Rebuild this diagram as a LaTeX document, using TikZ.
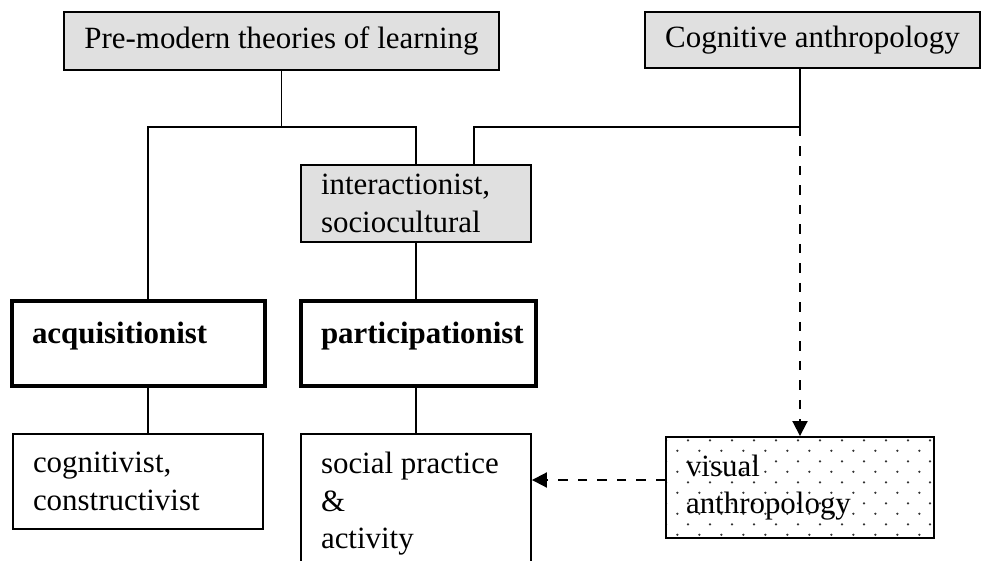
\documentclass[tikz,border=0pt]{standalone}
\usepackage{fontspec}
\setmainfont{Liberation Serif}
\usetikzlibrary{arrows.meta, patterns.meta}

\definecolor{boxgray}{RGB}{224,224,224}

% sparse staggered dots for the visual anthropology box
\tikzdeclarepattern{
  name=sparsedots,
  type=uncolored,
  bounding box={(0cm,0cm) and (0.434cm,0.428cm)},
  tile size={(0.434cm,0.428cm)},
  code={
    \fill (0.1085cm,0.107cm) circle (0.026cm);
    \fill (0.3255cm,0.321cm) circle (0.026cm);
  }
}

\begin{document}
\begin{tikzpicture}[
    x=0.02cm, y=-0.02cm,
    box/.style={draw, line width=1.1pt, rectangle, inner xsep=0.4cm, inner ysep=0pt, align=flush left, font=\fontsize{17.6}{21.3}\selectfont},
    shaded/.style={box, fill=boxgray},
    heavy/.style={box, line width=2pt, font=\fontsize{17.6}{21.3}\selectfont\bfseries, text height=0.36cm, text depth=0.36cm},
    speckled/.style={box, pattern=sparsedots, pattern color=black!80},
    link/.style={line width=1.1pt},
    dashlink/.style={line width=1.1pt, dash pattern=on 0.19cm off 0.2cm, -{Triangle[length=0.3cm, width=0.3cm]}}
]
\useasboundingbox (0,0) rectangle (981,561);

% --- 1. SOURCES (Top) ---
\node[shaded, minimum width=8.46cm, minimum height=1.16cm] (premod) at (281.5,41) {Pre-modern theories of learning};
\node[shaded, minimum width=6.66cm, minimum height=1.12cm] (cogant) at (812.5,40) {Cognitive anthropology};

% --- 2. THE TWO METAPHORS (Middle) ---
\node[shaded, text width=3.8cm, minimum height=1.54cm] (inter) at (416,203.5) {interactionist,\\sociocultural};
\node[heavy, text width=4.26cm, minimum height=1.7cm] (acq) at (138.5,343.5) {acquisitionist};
\node[heavy, text width=3.9cm, minimum height=1.7cm] (part) at (418.5,343.5) {participationist};

% --- 3. APPROACHES (Bottom) ---
\node[box, text width=4.2cm, minimum height=1.9cm] (cogn) at (138,481.5) {cognitivist,\\constructivist};
\node[box, text width=3.8cm, minimum height=2.8cm] (social) at (416,504) {social practice\\\&\\activity}; % runs off the page
\node[speckled, text width=4.56cm, minimum height=2.02cm] (visual) at (800,487.5) {visual\\anthropology};

% --- 4. CONNECTORS ---
\coordinate (prejoin) at (281.5,127);
\coordinate (cogjoin) at (800,127);
\draw[link] (premod.south) -- (prejoin);
\draw[link] ([xshift=0.19cm]acq.north) |- (prejoin) -| (inter.north);
\draw[link] (cogant.south -| cogjoin) -- (cogjoin) -| ([xshift=-1.16cm]inter.north east);
\draw[link] (inter.south) -- (inter.south |- part.north);
\draw[link] ([xshift=0.19cm]acq.south) -- ([xshift=0.2cm]cogn.north);
\draw[link] (inter.south |- part.south) -- (inter.south |- social.north);

% dashed influence of visual anthropology
\draw[dashlink] (cogjoin) -- (visual.north);
\draw[dashlink] ([yshift=0.15cm]visual.west) -- ([yshift=0.15cm]visual.west -| social.east);

\end{tikzpicture}
\end{document}
